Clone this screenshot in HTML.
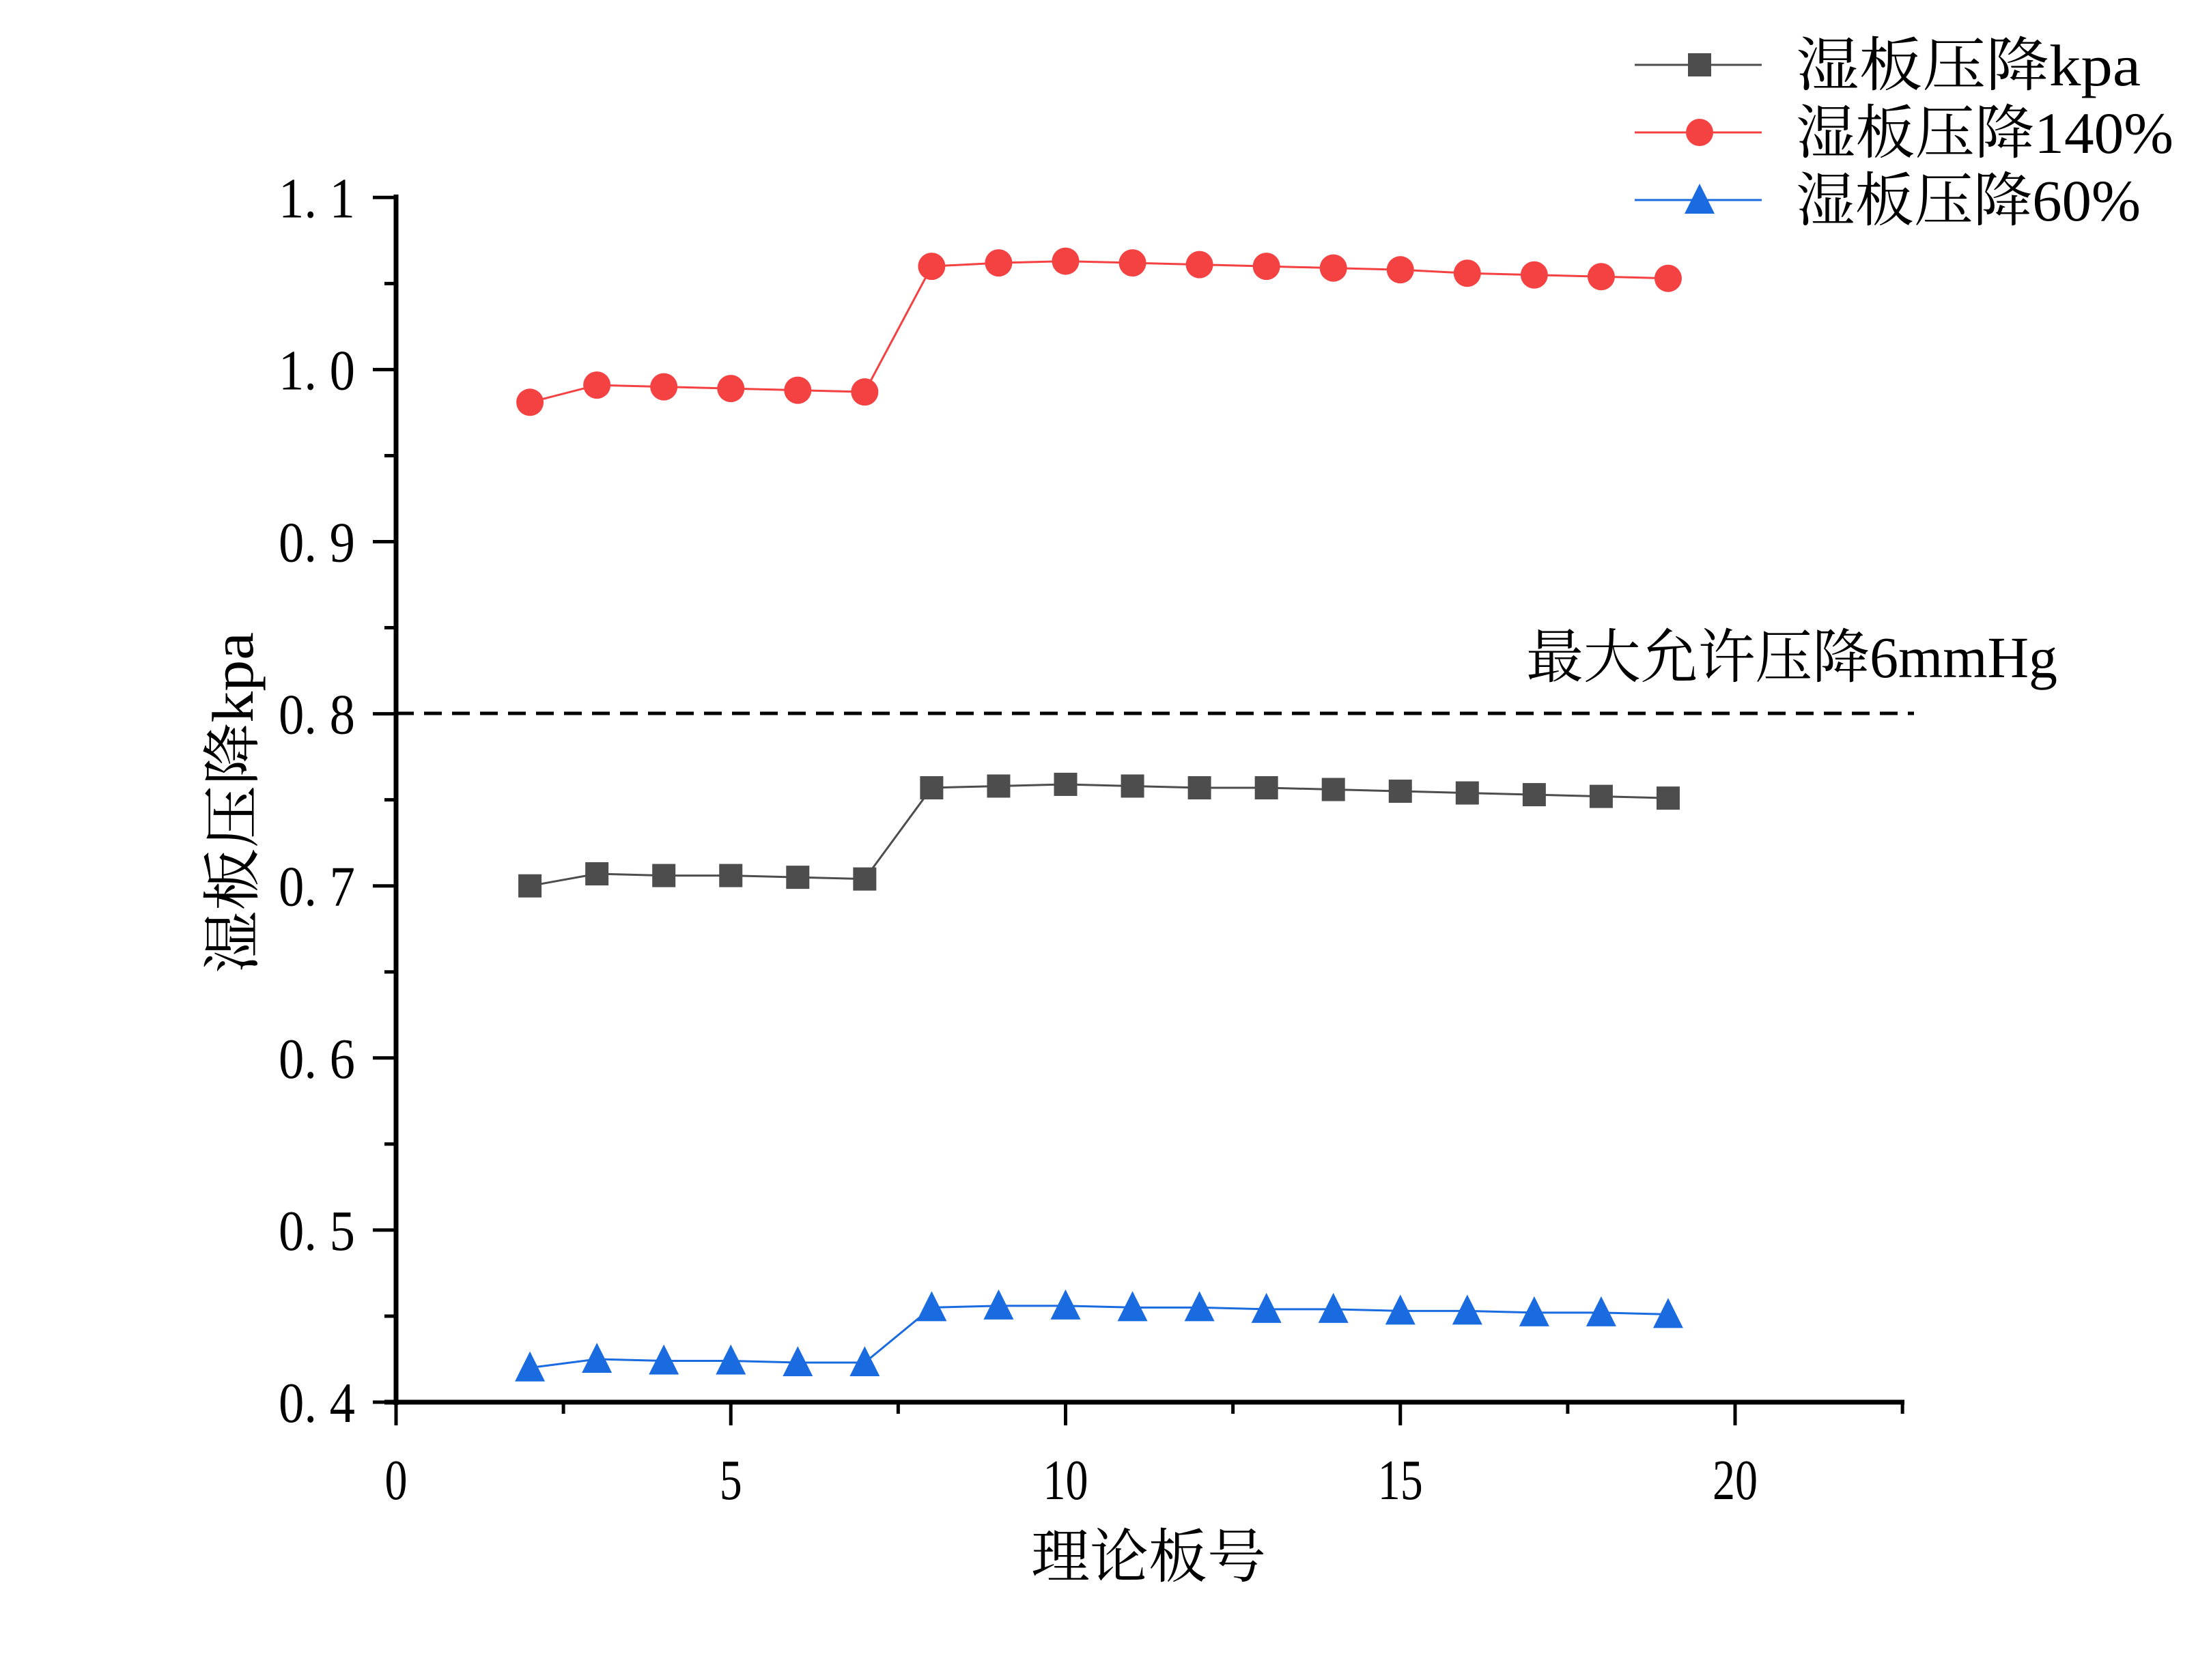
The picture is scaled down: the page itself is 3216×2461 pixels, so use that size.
<!DOCTYPE html>
<html><head><meta charset="utf-8"><style>html,body{margin:0;padding:0;background:#fff}svg{display:block}</style></head>
<body>
<svg id="s" width="3216" height="2461" viewBox="0 0 3216 2461" xmlns="http://www.w3.org/2000/svg" font-family="'Liberation Serif','Noto Serif CJK SC',serif">
<rect width="3216" height="2461" fill="#fff"/>
<g id="g"></g>
<line x1="580" y1="1045" x2="2803" y2="1045" stroke="#000" stroke-width="5" stroke-dasharray="26,15"/>
<text x="2235" y="992" font-size="86" textLength="778" lengthAdjust="spacingAndGlyphs">最大允许压降6mmHg</text>
<text x="1682" y="2310" font-size="86" text-anchor="middle">理论板号</text>
<text transform="translate(370,1176) rotate(-90)" font-size="86" text-anchor="middle" textLength="500" lengthAdjust="spacingAndGlyphs">湿板压降kpa</text>
<g font-size="86">
<text x="2630" y="125" textLength="505" lengthAdjust="spacingAndGlyphs">湿板压降kpa</text>
<text x="2630" y="224" textLength="553" lengthAdjust="spacingAndGlyphs">湿板压降140%</text>
<text x="2630" y="323" textLength="505" lengthAdjust="spacingAndGlyphs">湿板压降60%</text>
</g>
</svg>
<script>
var g=document.getElementById('g'),h='';
function X(v){return 580+v*98.05}
function Y(v){return 2054-(v-0.4)*2521}
h+='<line x1="580" y1="285" x2="580" y2="2058" stroke="#000" stroke-width="7"/>';
h+='<line x1="563" y1="2054" x2="2789" y2="2054" stroke="#000" stroke-width="7"/>';
for(var i=0;i<=9;i++){var xv=i*2.5,x=X(xv);if(x>2792)break;var maj=(i%2==0);h+='<line x1="'+x+'" y1="2054" x2="'+x+'" y2="'+(2054+(maj?34:17))+'" stroke="#000" stroke-width="5"/>';if(maj){var s=String(xv);h+='<text x="'+x+'" y="2196" font-size="84" text-anchor="middle" textLength="'+(s.length*33)+'" lengthAdjust="spacingAndGlyphs">'+s+'</text>';}}
for(var i=0;i<=14;i++){var yv=0.4+i*0.05,y=Y(yv),maj=(i%2==0);h+='<line x1="'+(580-(maj?34:17))+'" y1="'+y+'" x2="580" y2="'+y+'" stroke="#000" stroke-width="5"/>';if(maj)h+='<text x="520" y="'+(y+29)+'" font-size="84" text-anchor="end" textLength="112" lengthAdjust="spacingAndGlyphs">'+(yv.toFixed(1).replace('.','. '))+'</text>';}
var xs=[2,3,4,5,6,7,8,9,10,11,12,13,14,15,16,17,18,19];
var K=[0.700,0.707,0.706,0.706,0.705,0.704,0.757,0.758,0.759,0.758,0.757,0.757,0.756,0.755,0.754,0.753,0.752,0.751];
var R=[0.981,0.991,0.990,0.989,0.988,0.987,1.060,1.062,1.063,1.062,1.061,1.060,1.059,1.058,1.056,1.055,1.054,1.053];
var B=[0.420,0.425,0.424,0.424,0.423,0.423,0.455,0.456,0.456,0.455,0.455,0.454,0.454,0.453,0.453,0.452,0.452,0.451];
function line(d,c){var p=xs.map(function(x,i){return X(x)+','+Y(d[i])}).join(' ');return '<polyline points="'+p+'" fill="none" stroke="'+c+'" stroke-width="3"/>';}
h+=line(K,'#4d4d4d')+line(R,'#f44242')+line(B,'#1b6be0');
function sq(x,y){return '<rect x="'+(x-17)+'" y="'+(y-17)+'" width="34" height="34" fill="#4d4d4d"/>'}
function ci(x,y){return '<circle cx="'+x+'" cy="'+y+'" r="20" fill="#f44242"/>'}
function tr(x,y){return '<polygon points="'+x+','+(y-24)+' '+(x+22)+','+(y+20)+' '+(x-22)+','+(y+20)+'" fill="#1b6be0"/>'}
xs.forEach(function(x,i){h+=sq(X(x),Y(K[i]))+ci(X(x),Y(R[i]))+tr(X(x),Y(B[i]));});
[[95,'#4d4d4d',sq],[194,'#f44242',ci],[293,'#1b6be0',tr]].forEach(function(a){h+='<line x1="2394" y1="'+a[0]+'" x2="2580" y2="'+a[0]+'" stroke="'+a[1]+'" stroke-width="3"/>'+a[2](2489,a[0]);});
g.innerHTML=h;
</script>
</body></html>
